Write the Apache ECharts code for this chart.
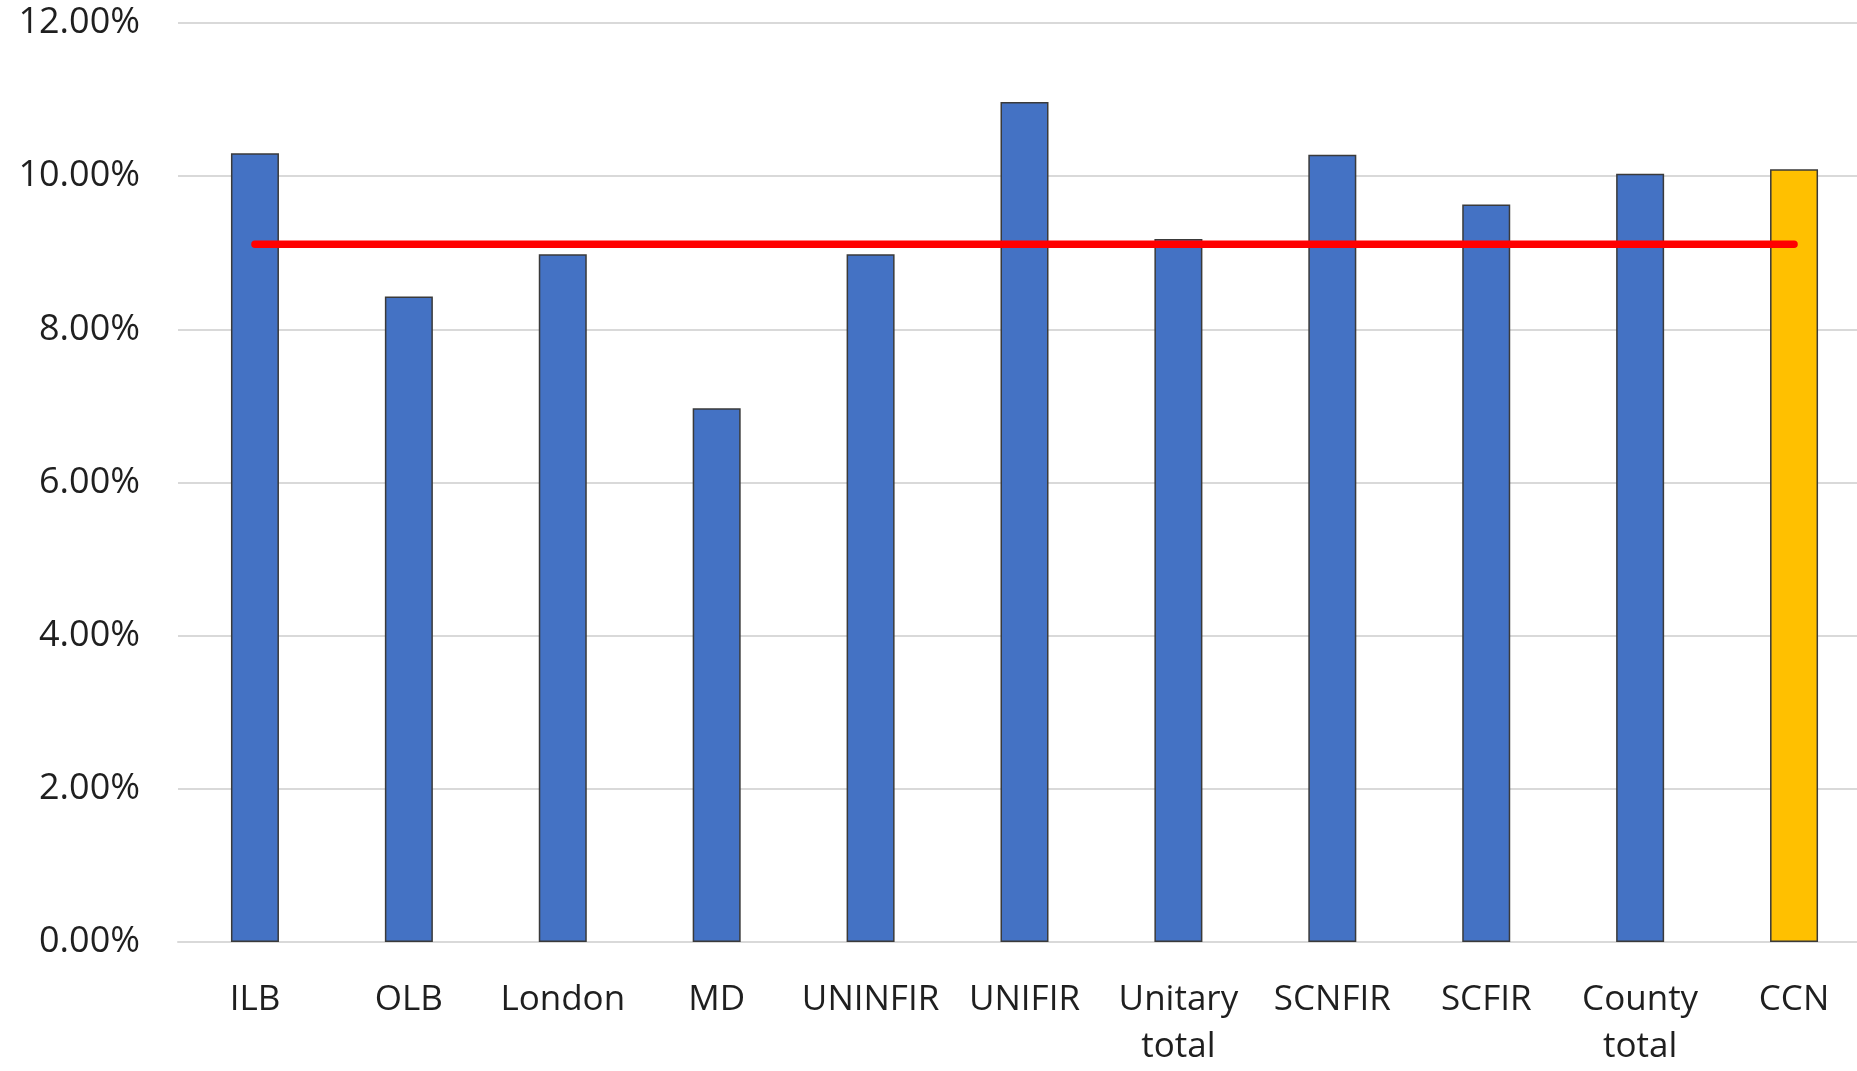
<!DOCTYPE html>
<html>
<head>
<meta charset="utf-8">
<script src="https://cdn.jsdelivr.net/npm/echarts@6/dist/echarts.min.js"></script>
<style>
html,body{margin:0;padding:0;background:#fff;overflow:hidden;}
#c{width:1871px;height:1071px;}
</style>
</head>
<body>
<div id="c"></div>
<script>
const categories = ['ILB','OLB','London','MD','UNINFIR','UNIFIR','Unitary\ntotal','SCNFIR','SCFIR','County\ntotal','CCN'];
const values = [10.30, 8.43, 8.98, 6.97, 8.98, 10.97, 9.18, 10.28, 9.63, 10.03, 10.09];
const highlight = 'CCN';
const averageValue = 9.11;
const yTicks = [0, 2, 4, 6, 8, 10, 12];

const chart = echarts.init(document.getElementById('c'), null, {renderer:'canvas'});
const font = '"Open Sans", "Liberation Sans", sans-serif';
chart.setOption({
  animation:false,
  backgroundColor:'#ffffff',
  grid:{left:178, top:23, right:0, bottom:124, containLabel:false},
  xAxis:{
    type:'category',
    data:categories,
    axisLine:{show:true, lineStyle:{color:'#d9d9d9', width:2}},
    axisTick:{show:false},
    axisLabel:{color:'#1f1f1f', fontSize:35, fontFamily:font, margin:35, lineHeight:47, interval:0}
  },
  yAxis:{
    type:'value',
    min:yTicks[0], max:yTicks[yTicks.length-1], interval:yTicks[1]-yTicks[0],
    axisLine:{show:false},
    axisTick:{show:false},
    splitLine:{lineStyle:{color:'#d9d9d9', width:2}},
    axisLabel:{color:'#1f1f1f', fontSize:36, fontFamily:font, margin:38,
      formatter:v=>v.toFixed(2)+'%'}
  },
  series:[
    {
      type:'bar',
      barWidth:48,
      data:values.map((v,i)=>({value:v, itemStyle:{color: categories[i]===highlight ? '#FFC000' : '#4472C4'}})),
      itemStyle:{borderColor:'#3a3a3a', borderWidth:1.5},
      z:2
    },
    {
      type:'line',
      data:categories.map(()=>averageValue),
      symbol:'none',
      lineStyle:{color:'#FF0000', width:7.5, cap:'round'},
      z:5
    }
  ]
});
</script>
</body>
</html>
